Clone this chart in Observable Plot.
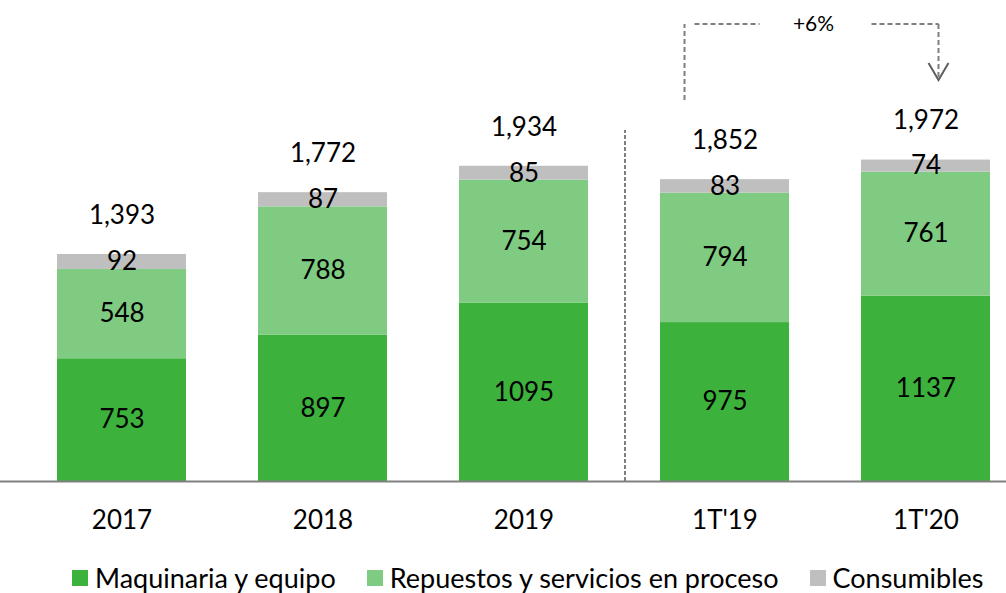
<!DOCTYPE html>
<html><head><meta charset="utf-8">
<script src="https://cdn.jsdelivr.net/npm/d3@7"></script>
<script src="https://cdn.jsdelivr.net/npm/@observablehq/plot@0.6"></script>
<style>
body{margin:0;background:#fff;font-family:Lato,"Open Sans",sans-serif;overflow:hidden;}
#legend{position:absolute;top:564px;left:72px;display:flex;justify-content:flex-start;align-items:center;gap:31px;font-size:27px;line-height:1;color:#000;white-space:nowrap;}
#legend .it{display:flex;align-items:center;gap:7px;}
#legend .sw{width:16px;height:16px;display:inline-block;}
</style></head><body><div id="chart"></div><div id="legend"></div>
<script>
const categories = ["2017","2018","2019","1T'19","1T'20"];
const maquinaria = [753, 897, 1095, 975, 1137];
const repuestos = [548, 788, 754, 794, 761];
const consumibles = [92, 87, 85, 83, 74];
const totals = [1393, 1772, 1934, 1852, 1972];
const series = ["Maquinaria y equipo", "Repuestos y servicios en proceso", "Consumibles"];
const colors = ["#3cb13c", "#7ecb81", "#bfbfbf"];
const growthLabel = "+6%";

const data = categories.flatMap((c, i) => [
  {cat: c, serie: series[0], value: maquinaria[i]},
  {cat: c, serie: series[1], value: repuestos[i]},
  {cat: c, serie: series[2], value: consumibles[i]}
]);
const totalData = categories.map((c, i) => ({cat: c, total: totals[i]}));

function bracket(index, scales, values, dims) {
  const x = scales.x, y = scales.y, bw = x.bandwidth();
  const xl = x("1T'19") + bw / 2 - 40;
  const xr = x("1T'20") + bw / 2 + 13;
  const yTop = y(2804), yLeftBot = y(2337), yTip = y(2460);
  const xm = (xl + xr) / 2 + 2;
  const g = d3.create("svg:g").attr("fill", "none").attr("stroke", "#7f7f7f").attr("stroke-width", 2);
  const dash = "5,3";
  g.append("line").attr("x1", xl).attr("x2", xl).attr("y1", yLeftBot).attr("y2", yTop).attr("stroke-dasharray", dash);
  g.append("line").attr("x1", xl + 10).attr("x2", xm - 54).attr("y1", yTop).attr("y2", yTop).attr("stroke-dasharray", dash);
  g.append("line").attr("x1", xm + 58).attr("x2", xr).attr("y1", yTop).attr("y2", yTop).attr("stroke-dasharray", dash);
  g.append("line").attr("x1", xr).attr("x2", xr).attr("y1", yTop).attr("y2", yTip).attr("stroke-dasharray", dash);
  g.append("path").attr("d", `M${xr - 10},${yTip - 17}L${xr},${yTip}L${xr + 10},${yTip - 17}`).attr("stroke", "#5f5f5f");
  g.append("text").attr("x", xm).attr("y", yTop).attr("dy", "0.32em").attr("text-anchor", "middle")
    .attr("stroke", "none").attr("fill", "#000").attr("font-size", 21).text(growthLabel);
  return g.node();
}

const plot = Plot.plot({
  width: 1006, height: 545,
  marginLeft: 0, marginRight: 0, marginTop: 0, marginBottom: 64,
  style: {fontFamily: "Lato, 'Open Sans', sans-serif", fontSize: "26px", color: "#000", background: "#fff", overflow: "visible"},
  x: {domain: categories, range: [55, 992], paddingInner: 0.356, paddingOuter: 0, label: null},
  y: {domain: [0, 2951], axis: null},
  color: {domain: series, range: colors},
  marks: [
    Plot.barY(data, Plot.stackY({x: "cat", y: "value", fill: "serie"})),
    Plot.text(data, Plot.stackY({x: "cat", y: "value", z: "serie", text: d => String(d.value), fill: "#000", fontSize: 26})),
    Plot.text(totalData, {x: "cat", y: "total", dy: -39, text: d => d3.format(",")(d.total), fill: "#000", fontSize: 26}),
    Plot.ruleY([0], {stroke: "#808080", strokeWidth: 2}),
    Plot.ruleX(["1T'19"], {dx: -100, y1: 0, y2: 2153, stroke: "#808080", strokeWidth: 2, strokeDasharray: "4,2"}),
    Plot.axisX({tickSize: 0, tickPadding: 29, fontSize: 26, label: null}),
    bracket
  ]
});
document.getElementById("chart").appendChild(plot);

const legend = document.getElementById("legend");
series.forEach((s, i) => {
  const it = document.createElement("div"); it.className = "it";
  const sw = document.createElement("span"); sw.className = "sw"; sw.style.background = colors[i];
  const tx = document.createElement("span"); tx.textContent = s;
  it.appendChild(sw); it.appendChild(tx); legend.appendChild(it);
});
</script></body></html>
